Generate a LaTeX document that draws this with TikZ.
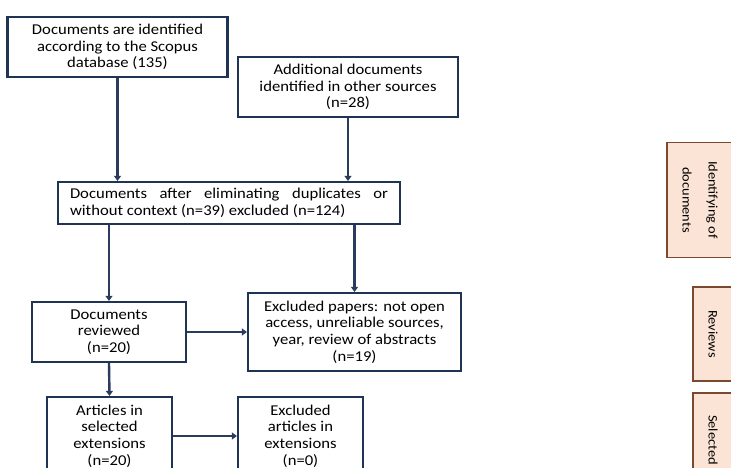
\documentclass[tikz,border=0pt]{standalone}
\usepackage{fontspec}
\setmainfont{Carlito}[FakeStretch=1.11]
\usepackage{tikz}
\usepackage{xcolor}
\usetikzlibrary{positioning,arrows.meta,calc}
\definecolor{boxnavy}{HTML}{1F3354}
\definecolor{arrnavy}{HTML}{2A3B5E}
\definecolor{phasebg}{HTML}{FBE4D6}
\definecolor{phaseline}{HTML}{7B4A2E}

\begin{document}
\begin{tikzpicture}[
        x=1pt, y=-1pt,
        every node/.style={font=\fontsize{15}{16.7}\selectfont, align=center, inner sep=2pt},
        flowbox/.style={draw=boxnavy, line width=2.2pt, fill=white},
        phase/.style={draw=phaseline, line width=1.8pt, fill=phasebg, rotate=-90, font=\fontsize{13}{26}\selectfont},
        arr/.style={-{Triangle[width=7pt,length=5pt]}, line width=2.4pt, draw=arrnavy}
      ]
        \clip (0,0) rectangle (731,468);
        \fill[white] (0,0) rectangle (731,468);
        % flow boxes
        \node[flowbox, minimum width=220pt, minimum height=60pt] (scopus) at (117.5,47) {Documents are identified\\according to the Scopus\\database (135)};
        \node[flowbox, minimum width=220pt, minimum height=60pt] (other) at (348,87) {Additional documents\\identified in other sources\\(n=28)};
        \node[flowbox, minimum width=342pt, minimum height=42pt, align=left] (dupl) at (229,203) {\makebox[318pt][s]{Documents after eliminating duplicates or}\\without context (n=39) excluded (n=124)};
        \node[flowbox, minimum width=154pt, minimum height=60pt] (rev) at (109,332) {Documents\\reviewed\\(n=20)};
        \node[flowbox, minimum width=213pt, minimum height=78pt] (excl) at (354.5,332) {Excluded papers: not open\\access, unreliable sources,\\year, review of abstracts\\(n=19)};
        \node[flowbox, minimum width=125pt, minimum height=78pt] (art) at (109.5,436) {Articles in\\selected\\extensions\\(n=20)};
        \node[flowbox, minimum width=125pt, minimum height=78pt] (exart) at (300.5,436) {Excluded\\articles in\\extensions\\(n=0)};
        % phase labels
        \node[phase, minimum width=115pt, minimum height=66pt] (ph1) at (700,200) {Identifying of\\documents};
        \node[phase, minimum width=94pt, minimum height=40pt] (ph2) at (713,334) {Reviews};
        \node[phase, minimum width=94pt, minimum height=40pt] (ph3) at (713,440) {Selected};
        % connectors
        \draw[arr] (scopus.south) -- (scopus.south |- dupl.north);
        \draw[arr] (other.south) -- (other.south |- dupl.north);
        \draw[arr] (dupl.south -| rev.north) -- (rev.north);
        \draw[arr] (dupl.south -| excl.north) -- (excl.north);
        \draw[arr] (rev.east) -- (rev.east -| excl.west);
        \draw[arr] (rev.south) -- (art.north);
        \draw[arr] (art) -- (exart);
      \end{tikzpicture}
\end{document}
